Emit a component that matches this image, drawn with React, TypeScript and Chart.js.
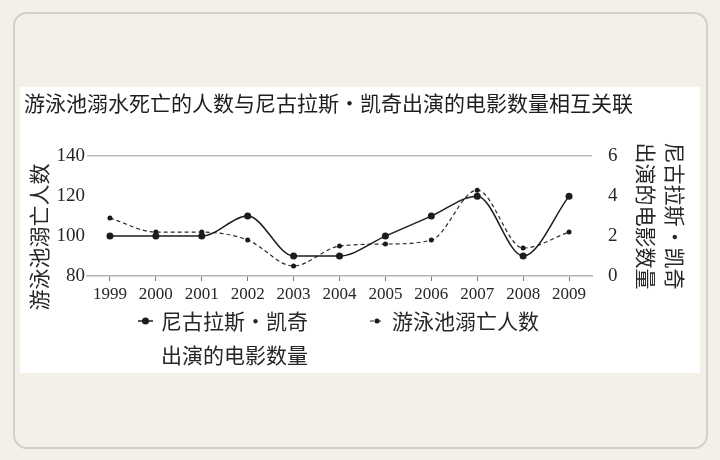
import React, { useEffect, useRef } from "react";
import { Chart, registerables } from "chart.js";

Chart.register(...registerables);

// ---- data ----
const years = ["1999", "2000", "2001", "2002", "2003", "2004", "2005", "2006", "2007", "2008", "2009"];
const cageFilms = [2, 2, 2, 3, 1, 1, 2, 3, 4, 1, 4];
const drownings = [109, 102, 102, 98, 85, 95, 96, 98, 123, 94, 102];

const chartTitle = "游泳池溺水死亡的人数与尼古拉斯·凯奇出演的电影数量相互关联";
const leftAxisTitle = "游泳池溺亡人数\u3000\u3000";
const rightAxisTitle = ["尼古拉斯·凯奇", "出演的电影数量"];
const cageLabel = ["尼古拉斯·凯奇", "出演的电影数量"];
const drownLabel = ["游泳池溺亡人数"];

const leftMin = 80;
const leftMax = 140;
const leftStep = 20;
const rightMin = 0;
const rightMax = 6;
const rightStep = 2;

const CJK = '"Noto Sans CJK SC", "Noto Sans", sans-serif';
const SERIF = '"Liberation Serif", "DejaVu Serif", serif';
const TEXT = "#262626";
const LINE = "#1c1c1c";

const legendPlugin = {
  id: "customLegend",
  afterDraw(chart: any) {
    const ctx = chart.ctx as CanvasRenderingContext2D;
    const ca = chart.chartArea;
    const rowY = ca.bottom + 45;
    const lineGap = 34;
    const ds = chart.data.datasets;
    const items = [
      { x: ca.left + 51, text: cageLabel, d: ds[0], textOff: 23, len: 15 },
      { x: ca.left + 283, text: drownLabel, d: ds[1], textOff: 22, len: 14 },
    ];
    ctx.save();
    for (const it of items) {
      ctx.strokeStyle = it.d.borderColor;
      ctx.lineWidth = it.d.borderWidth;
      ctx.setLineDash(it.d.borderDash || []);
      ctx.beginPath();
      ctx.moveTo(it.x, rowY);
      ctx.lineTo(it.x + it.len, rowY);
      ctx.stroke();
      ctx.setLineDash([]);
      ctx.fillStyle = it.d.pointBackgroundColor;
      ctx.beginPath();
      ctx.arc(it.x + it.len / 2, rowY, it.d.pointRadius, 0, Math.PI * 2);
      ctx.fill();
      ctx.fillStyle = TEXT;
      ctx.font = `21px ${CJK}`;
      ctx.textAlign = "left";
      ctx.textBaseline = "middle";
      it.text.forEach((t: string, i: number) => {
        ctx.fillText(t, it.x + it.textOff, rowY + i * lineGap);
      });
    }
    ctx.restore();
  },
};

export default function App() {
  const ref = useRef<HTMLCanvasElement>(null);

  useEffect(() => {
    const chart = new Chart(ref.current as HTMLCanvasElement, {
      type: "line",
      data: {
        labels: years,
        datasets: [
          {
            label: cageLabel.join(""),
            data: cageFilms,
            yAxisID: "y1",
            borderColor: LINE,
            backgroundColor: LINE,
            pointBackgroundColor: LINE,
            pointBorderColor: LINE,
            borderWidth: 1.5,
            pointRadius: 3.5,
            pointBorderWidth: 0,
            cubicInterpolationMode: "monotone",
            fill: false,
          },
          {
            label: drownLabel.join(""),
            data: drownings,
            yAxisID: "y",
            borderColor: "#2a2a2a",
            backgroundColor: "#2a2a2a",
            pointBackgroundColor: "#1a1a1a",
            pointBorderColor: "#1a1a1a",
            borderWidth: 1.2,
            borderDash: [4, 3],
            pointRadius: 2.5,
            pointBorderWidth: 0,
            cubicInterpolationMode: "monotone",
            fill: false,
          },
        ],
      },
      options: {
        responsive: false,
        animation: false,
        devicePixelRatio: 1,
        layout: { padding: { left: 4, right: 0, top: 0, bottom: 67 } },
        plugins: {
          legend: { display: false },
          tooltip: { enabled: false },
          title: {
            display: true,
            text: chartTitle,
            align: "start",
            color: "#1e1e1e",
            font: { family: CJK, size: 21, weight: "normal", lineHeight: 1.2 },
            padding: { top: 3.4, bottom: 40.6 },
          },
        },
        scales: {
          x: {
            type: "category",
            offset: true,
            grid: { drawOnChartArea: false, drawTicks: true, tickLength: 5, color: "#777", lineWidth: 1 },
            border: { display: true, color: "#b4b4b4", width: 1.5 },
            ticks: { font: { family: SERIF, size: 17 }, color: TEXT, padding: 3, maxRotation: 0, autoSkip: false },
            afterFit: (s: any) => {
              s.height = 30;
            },
          },
          y: {
            position: "left",
            min: leftMin,
            max: leftMax,
            ticks: { stepSize: leftStep, font: { family: SERIF, size: 19 }, color: TEXT, padding: 2 },
            grid: {
              drawTicks: false,
              lineWidth: 1.5,
              color: (c: any) => (c.tick && c.tick.value === leftMax ? "#bdbdbd" : "rgba(0,0,0,0)"),
            },
            border: { display: false },
            title: {
              display: true,
              text: leftAxisTitle,
              color: TEXT,
              font: { family: CJK, size: 21, lineHeight: 1.2 },
              padding: { top: 2.4, bottom: 0 },
            },
            afterFit: (s: any) => {
              s.width = 63;
            },
          },
          y1: {
            position: "right",
            min: rightMin,
            max: rightMax,
            ticks: { stepSize: rightStep, font: { family: SERIF, size: 19 }, color: TEXT, padding: 8 },
            grid: { display: false },
            border: { display: false },
            title: {
              display: true,
              text: rightAxisTitle,
              color: TEXT,
              font: { family: CJK, size: 21, lineHeight: 1.38 },
              padding: { top: 10.5, bottom: 0 },
            },
            afterFit: (s: any) => {
              s.width = 108;
            },
          },
        },
      },
      plugins: [legendPlugin],
    } as any);
    return () => chart.destroy();
  }, []);

  return (
    <div
      style={{
        position: "absolute",
        left: 0,
        top: 0,
        width: 720,
        height: 460,
        background: "#f3f0e7",
        overflow: "hidden",
      }}
    >
      <div
        style={{
          position: "absolute",
          left: 13,
          top: 12,
          width: 695,
          height: 437,
          border: "2px solid #d3cfc7",
          borderRadius: 14,
          boxSizing: "border-box",
        }}
      />
      <div style={{ position: "absolute", left: 20, top: 87, width: 680, height: 286, background: "#ffffff" }}>
        <canvas ref={ref} width={680} height={286} style={{ display: "block", width: 680, height: 286 }} />
      </div>
    </div>
  );
}
